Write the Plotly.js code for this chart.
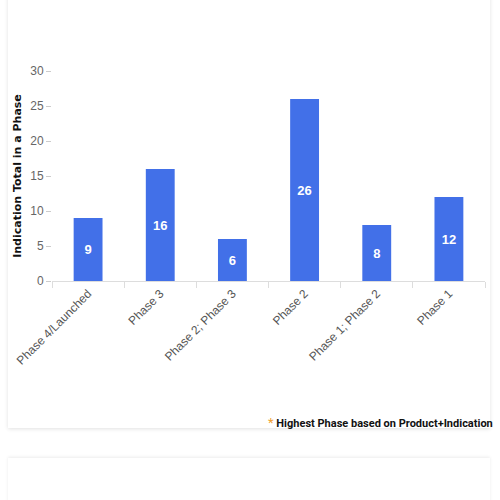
<!DOCTYPE html>
<html>
<head>
<meta charset="utf-8">
<script src="https://cdn.plot.ly/plotly-3.0.1.min.js"></script>
<style>
html,body{margin:0;padding:0;background:#fff;width:500px;height:500px;overflow:hidden;}
#card{position:absolute;left:8px;top:-10px;width:482px;height:438px;background:#fff;box-shadow:0 1px 4px rgba(0,0,0,0.12);}
#card2{position:absolute;left:8px;top:458px;width:482px;height:80px;background:#fff;box-shadow:0 -1px 3px rgba(0,0,0,0.08);}
#chart{position:absolute;left:0;top:0;width:500px;height:500px;}
</style>
</head>
<body>
<div id="card"></div>
<div id="card2"></div>
<div id="chart"></div>
<script>
const categories = ["Phase 4/Launched","Phase 3","Phase 2; Phase 3","Phase 2","Phase 1; Phase 2","Phase 1"];
const values = [9,16,6,26,8,12];
const yTicks = [0,5,10,15,20,25,30];
const yTitle = "Indication Total in a Phase";
const footnote = "Highest Phase based on Product+Indication";

const trace = {
  type:'bar', x:categories, y:values,
  text: values.map(String), textposition:'inside', insidetextanchor:'middle',
  textfont:{color:'#fff', size:13, family:'Liberation Sans, Arial', weight:'bold'},
  marker:{color:'#4270E8'}, width:0.4, hoverinfo:'none'
};
const layout = {
  width:500, height:500,
  margin:{l:52, r:15, t:71, b:219},
  paper_bgcolor:'rgba(0,0,0,0)', plot_bgcolor:'rgba(0,0,0,0)',
  showlegend:false,
  xaxis:{
    type:'category', tickangle:-45, tickson:'boundaries', ticks:'outside', ticklen:6, tickcolor:'#ddd',
    showline:true, linecolor:'#ddd', linewidth:1, showgrid:false,
    tickfont:{family:'Liberation Sans, Arial', size:12, color:'#555'}
  },
  yaxis:{
    range:[0,30], tickvals:yTicks, ticks:'outside', ticklen:5, tickcolor:'#ccc',
    showgrid:false, zeroline:false, showline:false,
    tickfont:{family:'Liberation Sans, Arial', size:12, color:'#666'},
    title:{text:yTitle, font:{family:'DejaVu Sans', size:11, color:'#111', weight:'bold'}, standoff:6}
  },
  annotations:[{
    xref:'paper', yref:'paper', x:1.023, y:-0.675, xanchor:'right', yanchor:'middle', showarrow:false,
    text:'<span style="color:#F0A030;font-size:13px">*</span> <b>'+footnote+'</b>',
    font:{family:'Roboto', size:11, color:'#111'}
  }]
};
Plotly.newPlot('chart',[trace],layout,{displayModeBar:false, staticPlot:true});
</script>
</body>
</html>
